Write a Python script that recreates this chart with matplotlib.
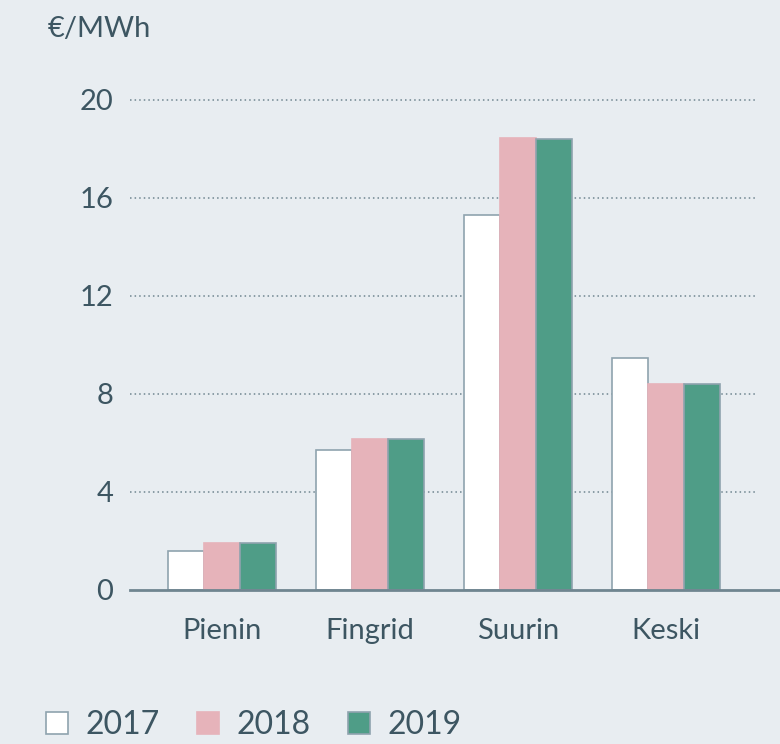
import matplotlib
matplotlib.use("Agg")
import matplotlib.pyplot as plt
import numpy as np
from matplotlib.patches import Patch

categories = ["Pienin", "Fingrid", "Suurin", "Keski"]
years = ["2017", "2018", "2019"]
v2017 = [1.6, 5.7, 15.3, 9.45]
v2018 = [1.92, 6.15, 18.45, 8.4]
v2019 = [1.92, 6.15, 18.4, 8.4]
yticks = [0, 4, 8, 12, 16, 20]
unit = "€/MWh"

bg = "#e8edf1"
txt = "#3d5662"
axc = "#6f8590"
face = ["#ffffff", "#e6b3ba", "#4f9d87"]
edge = ["#8fa3ae", "#e6b3ba", "#8fa3ae"]

plt.rcParams['font.family'] = ['Lato', 'DejaVu Sans']

fig = plt.figure(figsize=(7.8, 7.44), dpi=100, facecolor=bg)
ax = fig.add_axes([130/780, 154/744, 650/780, 490/744])
ax.set_facecolor(bg)

x = np.arange(len(categories))
w = 0.243
left_lim, right_lim = -0.62, 3.77
ax.set_xlim(left_lim, right_lim)
ax.set_ylim(0, 20)

for t in yticks[1:]:
    ax.hlines(t, left_lim, 3.61, colors=axc, linestyles=(0, (1, 2)), linewidth=1.1, zorder=0, clip_on=False)

for i, vals in enumerate([v2017, v2018, v2019]):
    ax.bar(x + (i - 1) * w, vals, width=w, color=face[i], edgecolor=edge[i], linewidth=1.2, zorder=2)

for s in ["top", "right", "left"]:
    ax.spines[s].set_visible(False)
ax.spines["bottom"].set_color(axc)
ax.spines["bottom"].set_linewidth(2)
ax.spines["bottom"].set_zorder(3)

ax.set_yticks(yticks)
ax.set_yticklabels([str(t) for t in yticks])
ax.set_xticks(x)
ax.set_xticklabels(categories)
ax.tick_params(axis="y", length=0, pad=12, labelsize=21, labelcolor=txt)
ax.tick_params(axis="x", length=0, pad=20, labelsize=21, labelcolor=txt)

fig.text(48/780, 1 - 29/744, unit, fontsize=21, color=txt, va="center", ha="left")

handles = [Patch(facecolor=face[i], edgecolor=edge[i], linewidth=1.2) for i in range(3)]
leg = fig.legend(handles, years, ncol=3, loc="center left", bbox_to_anchor=(46/780, 1 - 725/744),
                 frameon=False, fontsize=23, handlelength=0.7, handleheight=0.7,
                 handletextpad=0.55, columnspacing=1.15, borderpad=0, borderaxespad=0)
for t in leg.get_texts():
    t.set_color(txt)

fig.savefig("out.png", dpi=100, facecolor=bg)
